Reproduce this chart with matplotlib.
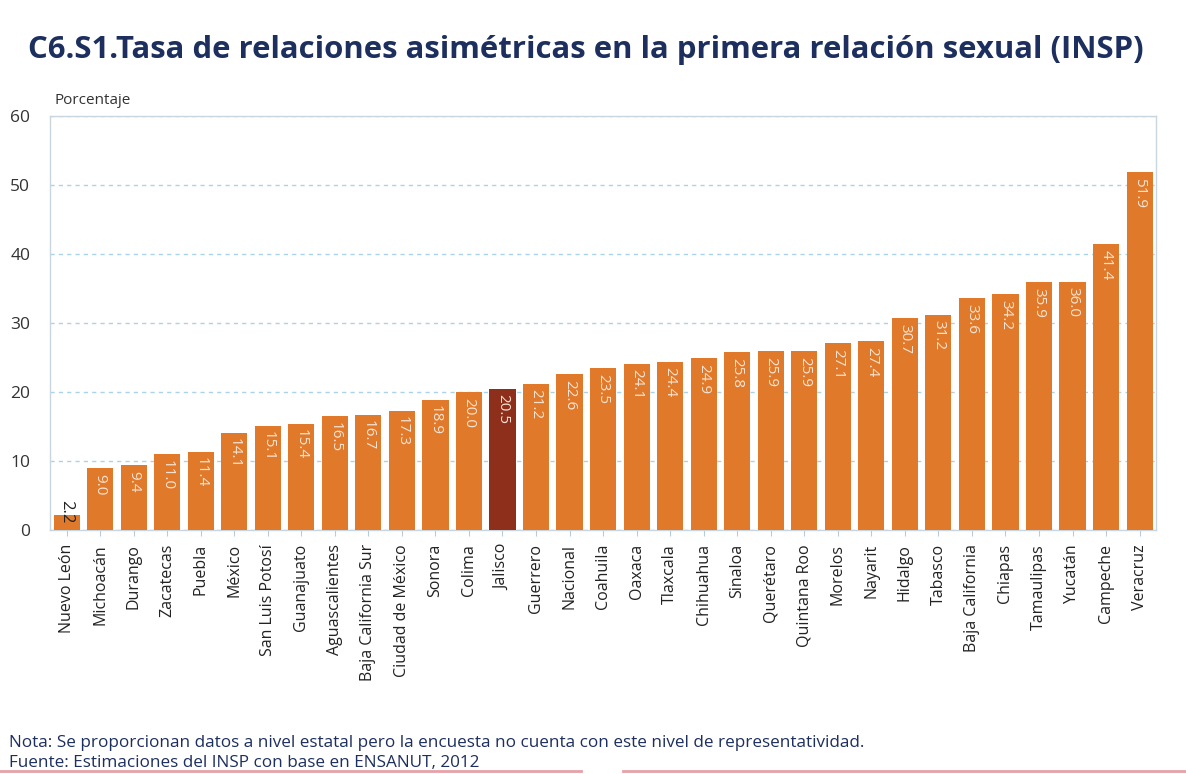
import matplotlib
matplotlib.use("Agg")
import matplotlib.pyplot as plt

states = ["Nuevo León", "Michoacán", "Durango", "Zacatecas", "Puebla", "México",
          "San Luis Potosí", "Guanajuato", "Aguascalientes", "Baja California Sur",
          "Ciudad de México", "Sonora", "Colima", "Jalisco", "Guerrero", "Nacional",
          "Coahuila", "Oaxaca", "Tlaxcala", "Chihuahua", "Sinaloa", "Querétaro",
          "Quintana Roo", "Morelos", "Nayarit", "Hidalgo", "Tabasco", "Baja California",
          "Chiapas", "Tamaulipas", "Yucatán", "Campeche", "Veracruz"]
values = [2.2, 9.0, 9.4, 11.0, 11.4, 14.1, 15.1, 15.4, 16.5, 16.7, 17.3, 18.9,
          20.0, 20.5, 21.2, 22.6, 23.5, 24.1, 24.4, 24.9, 25.8, 25.9, 25.9, 27.1,
          27.4, 30.7, 31.2, 33.6, 34.2, 35.9, 36.0, 41.4, 51.9]
highlight = "Jalisco"
yticks = [0, 10, 20, 30, 40, 50, 60]

orange = "#e07a2a"
dark = "#8e2f1c"
navy = "#1d2f5e"

plt.rcParams['font.family'] = ['Open Sans', 'DejaVu Sans']

fig = plt.figure(figsize=(11.86, 7.74), dpi=100)
fig.patch.set_facecolor("white")
ax = fig.add_axes([0.042, 0.315, 0.933, 0.535])

colors = [dark if s == highlight else orange for s in states]
x = range(len(states))
ax.bar(x, values, width=0.78, color=colors, zorder=3)

for i, v in enumerate(values):
	if v < 5:
		# small bar: dark label straddling the top of the bar
		ax.text(i, v - 1.2, f"{v:.1f}", rotation=270, ha="center", va="bottom",
				fontsize=12, color="#222222", zorder=4)
	else:
		ax.text(i, v - 0.8, f"{v:.1f}", rotation=270, ha="center", va="top",
				fontsize=11, color="#f5e3d3", zorder=4)

ax.set_xlim(-0.5, len(states) - 0.5)
ax.set_ylim(0, 60)
ax.set_yticks(yticks)
ax.set_yticklabels([str(t) for t in yticks], fontsize=12.5, color="#333333")
ax.set_xticks(list(x))
ax.set_xticklabels(states, rotation=90, fontsize=11.5, color="#222222")
ax.tick_params(axis="y", length=0, pad=14)
ax.tick_params(axis="x", length=4, color="#b9cbd8", pad=6)
ax.grid(axis="y", color="#a9d3e8", linestyle=(0, (3, 3)), linewidth=1, zorder=0)
for sp in ax.spines.values():
	sp.set_color("#c9d6df")
	sp.set_linewidth(1)

fig.text(0.024, 0.935, "C6.S1.Tasa de relaciones asimétricas en la primera relación sexual (INSP)",
		 fontsize=22.4, fontweight="bold", color=navy, va="center", ha="left")
fig.text(0.046, 0.870, "Porcentaje", fontsize=11, color="#333333", va="center")

fig.text(0.008, 0.040, "Nota: Se proporcionan datos a nivel estatal pero la encuesta no cuenta con este nivel de representatividad.",
		 fontsize=12.3, color=navy, va="center")
fig.text(0.008, 0.014, "Fuente: Estimaciones del INSP con base en ENSANUT, 2012",
		 fontsize=12.3, color=navy, va="center")
fig.add_artist(plt.Line2D([0.0, 0.49], [0.004, 0.004], color="#e8a0a8", linewidth=2))
fig.add_artist(plt.Line2D([0.525, 1.0], [0.004, 0.004], color="#e8a0a8", linewidth=2))

fig.savefig("out.png", dpi=100, facecolor="white")
